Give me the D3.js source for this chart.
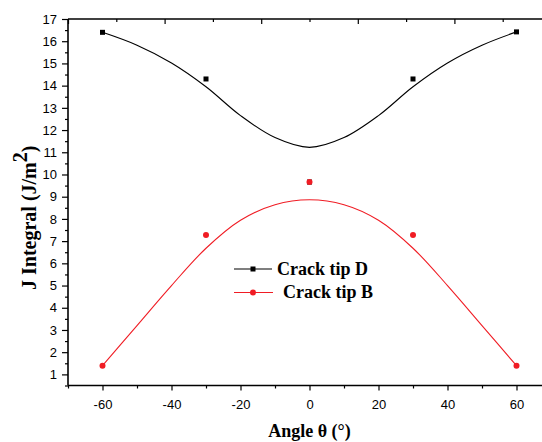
<!DOCTYPE html>
<html>
<head>
<meta charset="utf-8">
<script src="https://cdn.jsdelivr.net/npm/d3@7"></script>
<style>
  body { margin: 0; background: #fff; }
  svg { display: block; }
</style>
</head>
<body>
<svg id="chart" width="542" height="442"></svg>
<script>
// Measured J integral at each crack tip
const angles = [-60, -30, 0, 30, 60];
const tipD = [16.40, 14.30, 9.66, 14.30, 16.42];
const tipB = [1.39, 7.27, 9.66, 7.27, 1.39];

// Fitted trend curves for each tip
const fitAngles = [-60, -50, -40, -30, -20, -10, 0, 10, 20, 30, 40, 50, 60];
const fitD = [16.40, 15.82, 15.02, 13.95, 12.65, 11.66, 11.22, 11.66, 12.65, 13.95, 15.02, 15.82, 16.42];
const fitB = [1.39, 3.20, 5.00, 6.68, 7.94, 8.64, 8.86, 8.64, 7.94, 6.68, 5.00, 3.20, 1.39];

// Tick positions
const xMajor = [-60, -40, -20, 0, 20, 40, 60];
const xMinor = [-70, -50, -30, -10, 10, 30, 50, 70];
const yMajor = [1, 2, 3, 4, 5, 6, 7, 8, 9, 10, 11, 12, 13, 14, 15, 16, 17];
const yMinor = [0.5, 1.5, 2.5, 3.5, 4.5, 5.5, 6.5, 7.5, 8.5, 9.5, 10.5, 11.5, 12.5, 13.5, 14.5, 15.5, 16.5];
const topMajor = [-70, -42, -14, 14, 42, 70];
const topMinor = [-56, -28, 0, 28, 56];

const seriesNames = ["Crack tip D", "Crack tip B"];
const colors = { D: "#000000", B: "#f01c24" };

const svg = d3.select("#chart");
const plotL = 68, plotR = 551, plotT = 19, plotB = 385.5;

const x = d3.scaleLinear().domain([-70, 70]).range([plotL, plotR]);
const y = d3.scaleLinear().domain([0.5, 17]).range([plotB, plotT]);

const sans = "'Liberation Sans', Arial, sans-serif";
const serif = "'Liberation Serif', 'Times New Roman', serif";
const plain = d => String(d);

function styleAxis(g) {
  g.select(".domain").remove();
  g.selectAll(".tick line").attr("stroke", "#000").attr("stroke-width", 1.2);
  g.selectAll(".tick text").attr("font-family", sans).attr("font-size", 13).attr("fill", "#000");
}

// Bottom axis: major with labels, minor without
svg.append("g").attr("transform", `translate(0,${plotB})`)
  .call(d3.axisBottom(x).tickValues(xMajor).tickSize(5).tickPadding(9.5).tickFormat(plain))
  .call(styleAxis);
svg.append("g").attr("transform", `translate(0,${plotB})`)
  .call(d3.axisBottom(x).tickValues(xMinor).tickSize(3).tickFormat(""))
  .call(styleAxis);

// Left axis
svg.append("g").attr("transform", `translate(${plotL},0)`)
  .call(d3.axisLeft(y).tickValues(yMajor).tickSize(6).tickPadding(5).tickFormat(plain))
  .call(styleAxis);
svg.append("g").attr("transform", `translate(${plotL},0)`)
  .call(d3.axisLeft(y).tickValues(yMinor).tickSize(3).tickFormat(""))
  .call(styleAxis);

// Top axis: ticks pointing inward
svg.append("g").attr("transform", `translate(0,${plotT})`)
  .call(d3.axisBottom(x).tickValues(topMajor).tickSize(5).tickFormat(""))
  .call(styleAxis);
svg.append("g").attr("transform", `translate(0,${plotT})`)
  .call(d3.axisBottom(x).tickValues(topMinor).tickSize(3).tickFormat(""))
  .call(styleAxis);

// Frame lines
svg.append("line").attr("x1", plotL).attr("x2", plotR).attr("y1", plotB).attr("y2", plotB)
  .attr("stroke", "#000").attr("stroke-width", 1.6);
svg.append("line").attr("x1", plotL).attr("x2", plotR).attr("y1", plotT).attr("y2", plotT)
  .attr("stroke", "#000").attr("stroke-width", 1.4);
svg.append("line").attr("x1", plotL).attr("x2", plotL).attr("y1", plotT).attr("y2", plotB)
  .attr("stroke", "#000").attr("stroke-width", 1.6);

// Fitted curves
const line = d3.line().x(d => x(d[0])).y(d => y(d[1])).curve(d3.curveCatmullRom);
svg.append("path").datum(fitAngles.map((a, i) => [a, fitD[i]]))
  .attr("d", line).attr("fill", "none").attr("stroke", colors.D).attr("stroke-width", 1.1);

// Tip D markers
svg.append("g").selectAll("rect").data(angles.map((a, i) => [a, tipD[i]])).join("rect")
  .attr("x", d => x(d[0]) - 2.5).attr("y", d => y(d[1]) - 2.5)
  .attr("width", 5).attr("height", 5).attr("fill", colors.D);

svg.append("path").datum(fitAngles.map((a, i) => [a, fitB[i]]))
  .attr("d", line).attr("fill", "none").attr("stroke", colors.B).attr("stroke-width", 1.1);

// Tip B markers
svg.append("g").selectAll("circle").data(angles.map((a, i) => [a, tipB[i]])).join("circle")
  .attr("cx", d => x(d[0])).attr("cy", d => y(d[1])).attr("r", 3).attr("fill", colors.B);

// Legend
const lg = svg.append("g");
lg.append("line").attr("x1", 234).attr("x2", 272).attr("y1", 269).attr("y2", 269)
  .attr("stroke", colors.D).attr("stroke-width", 1.1);
lg.append("rect").attr("x", 253 - 2.5).attr("y", 269 - 2.5).attr("width", 5).attr("height", 5).attr("fill", colors.D);
lg.append("text").attr("x", 277).attr("y", 274.5).text(seriesNames[0])
  .attr("font-family", serif).attr("font-weight", "bold").attr("font-size", 18).attr("fill", "#000");
lg.append("line").attr("x1", 234).attr("x2", 273).attr("y1", 292.5).attr("y2", 292.5)
  .attr("stroke", colors.B).attr("stroke-width", 1.1);
lg.append("circle").attr("cx", 253).attr("cy", 292.5).attr("r", 3).attr("fill", colors.B);
lg.append("text").attr("x", 283).attr("y", 297.5).text(seriesNames[1])
  .attr("font-family", serif).attr("font-weight", "bold").attr("font-size", 18).attr("fill", "#000");

// Axis titles
svg.append("text").attr("x", 309.5).attr("y", 436.5).attr("text-anchor", "middle")
  .attr("font-family", serif).attr("font-weight", "bold").attr("font-size", 18).attr("fill", "#000")
  .text("Angle θ (°)");

const yt = svg.append("text").attr("transform", "translate(36,290) rotate(-90)")
  .attr("font-family", serif).attr("font-weight", "bold").attr("font-size", 20).attr("fill", "#000");
yt.append("tspan").text("J Integral (J/m");
yt.append("tspan").attr("dy", "-0.45em").text("2");
yt.append("tspan").attr("dy", "0.45em").text(")");
</script>
</body>
</html>
